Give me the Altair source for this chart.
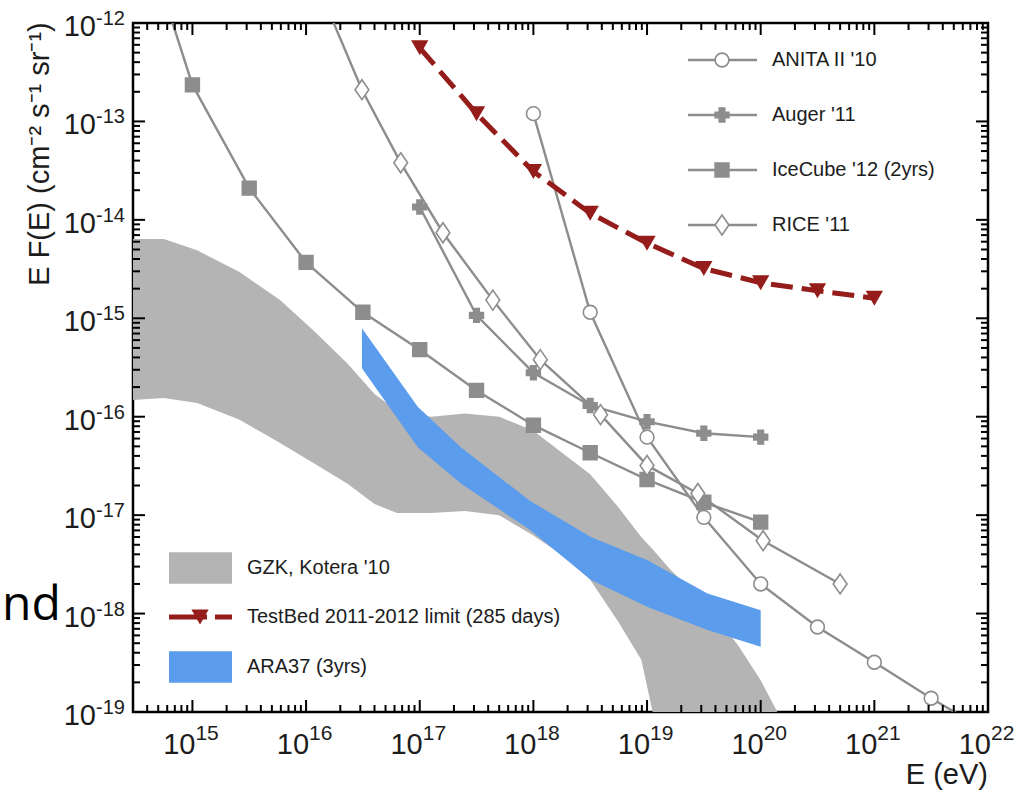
import altair as alt
import pandas as pd

# ---------------- data ----------------
E_DOMAIN = [3.0e14, 1.0e22]
F_DOMAIN = [1e-19, 1e-12]

# Kotera '10 GZK band
gzk_E = [3.0e14, 5.6e14, 1.1e15, 2.6e15, 5.9e15, 1.15e16, 2.3e16, 4.0e16, 6.3e16, 1.26e17,
         2.5e17, 5.0e17, 1.0e18, 2.0e18, 3.16e18, 5.6e18, 8.9e18, 1.12e19, 1.6e19, 3.16e19,
         6.3e19, 1.0e20, 1.4e20]
gzk_hi = [6.4e-15, 6.4e-15, 4.9e-15, 2.95e-15, 1.53e-15, 7.6e-16, 3.5e-16, 1.7e-16, 1.15e-16, 1.0e-16,
          1.08e-16, 1.0e-16, 7.2e-17, 3.9e-17, 2.6e-17, 1.2e-17, 6.0e-18, 4.5e-18, 2.8e-18, 1.3e-18,
          4.8e-19, 2.1e-19, 1.0e-19]
gzk_lo = [1.48e-16, 1.55e-16, 1.38e-16, 9.3e-17, 5.4e-17, 3.4e-17, 2.1e-17, 1.3e-17, 1.05e-17, 1.05e-17,
          1.1e-17, 1.0e-17, 6.2e-18, 3.6e-18, 2.2e-18, 8.2e-19, 3.4e-19, 1.0e-19, 1.0e-19, 1.0e-19,
          1.0e-19, 1.0e-19, 1.0e-19]

# ARA37 (3yrs) band
ara_E = [3.1e16, 9.6e16, 2.3e17, 9.3e17, 3.2e18, 1.0e19, 3.4e19, 1.0e20]
ara_hi = [7.9e-16, 1.26e-16, 4.9e-17, 1.4e-17, 6.0e-18, 3.5e-18, 1.6e-18, 1.08e-18]
ara_lo = [3.1e-16, 4.9e-17, 2.1e-17, 7.1e-18, 2.2e-18, 1.17e-18, 6.8e-19, 4.6e-19]

# experiments
anita_E = [1e18, 3.16e18, 1e19, 3.16e19, 1e20, 3.16e20, 1e21, 3.16e21, 1e22]
anita_F = [1.2e-13, 1.15e-15, 6.2e-17, 9.5e-18, 2.0e-18, 7.3e-19, 3.2e-19, 1.38e-19, 6.3e-20]

auger_E = [1e17, 3.16e17, 1e18, 3.16e18, 1e19, 3.16e19, 1e20]
auger_F = [1.35e-14, 1.07e-15, 2.8e-16, 1.3e-16, 8.9e-17, 6.8e-17, 6.2e-17]

icecube_E = [3.16e14, 1e15, 3.16e15, 1e16, 3.16e16, 1e17, 3.16e17, 1e18, 3.16e18, 1e19, 3.16e19, 1e20]
icecube_F = [1.5e-11, 2.35e-13, 2.1e-14, 3.7e-15, 1.15e-15, 4.8e-16, 1.85e-16, 8.2e-17, 4.3e-17,
             2.3e-17, 1.35e-17, 8.5e-18]

rice_E = [1e16, 3.1e16, 6.8e16, 1.6e17, 4.4e17, 1.15e18, 3.9e18, 1.0e19, 2.8e19, 1.05e20, 5.0e20]
rice_F = [4.6e-12, 2.1e-13, 3.8e-14, 7.4e-15, 1.53e-15, 3.8e-16, 1.05e-16, 3.2e-17, 1.66e-17,
          5.5e-18, 2.0e-18]

# TestBed 2011-2012 limit
tb_E = [1e17, 3.16e17, 1e18, 3.16e18, 1e19, 3.16e19, 1e20, 3.16e20, 1e21]
tb_F = [5.6e-13, 1.2e-13, 3.1e-14, 1.17e-14, 5.8e-15, 3.2e-15, 2.3e-15, 1.9e-15, 1.6e-15]

exp_names = ["ANITA II '10", "Auger '11", "IceCube '12 (2yrs)", "RICE '11"]
band_names = ["GZK, Kotera '10", "TestBed 2011-2012 limit (285 days)", "ARA37 (3yrs)"]

# tick labels
x_tick_vals = [1e15, 1e16, 1e17, 1e18, 1e19, 1e20, 1e21, 1e22]
x_tick_exp = ["15", "16", "17", "18", "19", "20", "21", "22"]
y_tick_vals = [1e-19, 1e-18, 1e-17, 1e-16, 1e-15, 1e-14, 1e-13, 1e-12]
y_tick_exp = ["-19", "-18", "-17", "-16", "-15", "-14", "-13", "-12"]

# ---------------- styling / layout ----------------
W, H = 855, 689
PAD = {"left": 133, "top": 23, "right": 46, "bottom": 83}
FONT = "Liberation Sans"
GRAY = "#8d8d8d"
GZK_COL = "#b4b4b4"
ARA_COL = "#5b9cec"
RED = "#941c1a"
INK = "#1c1c1c"
DIAMOND = "M0,-1.45L1,0L0,1.45L-1,0Z"
RECT = "M-1,-0.5H1V0.5H-1Z"
EXP_SHAPES = ["circle", "cross", "square", DIAMOND]
EXP_FILLS = ["white", GRAY, GRAY, "white"]
LEG1_ROWS = [37, 92, 147, 202]
LEG2_ROWS = [545, 594, 644]
TICK_W = 2.0

xs = alt.Scale(type="log", domain=E_DOMAIN, nice=False)
ys = alt.Scale(type="log", domain=F_DOMAIN, nice=False)
shape_scale = alt.Scale(domain=exp_names, range=EXP_SHAPES)
fill_scale = alt.Scale(domain=exp_names, range=EXP_FILLS)

X = lambda f: alt.X(f, scale=xs, axis=None)
Y = lambda f: alt.Y(f, scale=ys, axis=None)

# ---------------- data frames ----------------
df_gzk = pd.DataFrame({"E": gzk_E, "hi": gzk_hi, "lo": gzk_lo})
df_ara = pd.DataFrame({"E": ara_E, "hi": ara_hi, "lo": ara_lo})
rows = []
for name, es, fs in [(exp_names[0], anita_E, anita_F), (exp_names[1], auger_E, auger_F),
                     (exp_names[2], icecube_E, icecube_F), (exp_names[3], rice_E, rice_F)]:
    for e, f in zip(es, fs):
        rows.append({"series": name, "E": e, "F": f})
df_exp = pd.DataFrame(rows)
df_tb = pd.DataFrame({"E": tb_E, "F": tb_F})

layers = []

layers.append(alt.Chart(df_gzk).mark_area(color=GZK_COL, opacity=1, clip=True).encode(
    x=X("E:Q"), y=Y("hi:Q"), y2=alt.Y2("lo:Q")))
layers.append(alt.Chart(df_ara).mark_area(color=ARA_COL, opacity=1, clip=True).encode(
    x=X("E:Q"), y=Y("hi:Q"), y2=alt.Y2("lo:Q")))

layers.append(alt.Chart(df_exp).mark_line(color=GRAY, strokeWidth=2.4, clip=True).encode(
    x=X("E:Q"), y=Y("F:Q"), detail="series:N"))
layers.append(alt.Chart(df_exp).mark_point(filled=True, size=190, stroke=GRAY, strokeWidth=1.6,
                                           opacity=1, clip=True).encode(
    x=X("E:Q"), y=Y("F:Q"),
    shape=alt.Shape("series:N", scale=shape_scale, legend=None),
    fill=alt.Fill("series:N", scale=fill_scale, legend=None)))

layers.append(alt.Chart(df_tb).mark_line(color=RED, strokeWidth=5, strokeDash=[22, 9], clip=True).encode(
    x=X("E:Q"), y=Y("F:Q")))
layers.append(alt.Chart(df_tb).mark_point(shape="triangle-down", filled=True, size=300, color=RED,
                                          opacity=1, clip=True).encode(x=X("E:Q"), y=Y("F:Q")))

# ---------------- ticks (inward, mirrored) ----------------
x_minor = [m * 10.0 ** e for e in range(14, 22) for m in range(2, 10)
           if E_DOMAIN[0] <= m * 10.0 ** e <= E_DOMAIN[1]]
y_minor = [m * 10.0 ** e for e in range(-19, -12) for m in range(2, 10)]
df_xmaj = pd.DataFrame({"v": x_tick_vals, "exp": x_tick_exp})
df_ymaj = pd.DataFrame({"v": y_tick_vals, "exp": y_tick_exp})
df_xmin = pd.DataFrame({"v": x_minor})
df_ymin = pd.DataFrame({"v": y_minor})

for dfx, ln in [(df_xmaj, 12), (df_xmin, 7)]:
    layers.append(alt.Chart(dfx).mark_rule(color="black", strokeWidth=TICK_W).encode(
        x=X("v:Q"), y=alt.value(H), y2=alt.value(H - ln)))
    layers.append(alt.Chart(dfx).mark_rule(color="black", strokeWidth=TICK_W).encode(
        x=X("v:Q"), y=alt.value(0), y2=alt.value(ln)))
for dfy, ln in [(df_ymaj, 12), (df_ymin, 7)]:
    layers.append(alt.Chart(dfy).mark_rule(color="black", strokeWidth=TICK_W).encode(
        y=Y("v:Q"), x=alt.value(0), x2=alt.value(ln)))
    layers.append(alt.Chart(dfy).mark_rule(color="black", strokeWidth=TICK_W).encode(
        y=Y("v:Q"), x=alt.value(W - ln), x2=alt.value(W)))

# ---------------- tick labels ----------------
layers.append(alt.Chart(df_xmaj).mark_text(align="right", baseline="middle", dx=3, fontSize=29,
                                           font=FONT, color=INK).encode(
    x=X("v:Q"), y=alt.value(H + 33), text=alt.value("10")))
layers.append(alt.Chart(df_xmaj).mark_text(align="left", baseline="middle", dx=3, fontSize=21,
                                           font=FONT, color=INK).encode(
    x=X("v:Q"), y=alt.value(H + 22), text="exp:N"))
layers.append(alt.Chart(df_ymaj).mark_text(align="right", baseline="middle", dy=4, fontSize=29,
                                           font=FONT, color=INK).encode(
    y=Y("v:Q"), x=alt.value(-37), text=alt.value("10")))
layers.append(alt.Chart(df_ymaj).mark_text(align="left", baseline="middle", dy=-4, fontSize=20,
                                           font=FONT, color=INK).encode(
    y=Y("v:Q"), x=alt.value(-37), text="exp:N"))

one = pd.DataFrame({"k": [0]})
layers.append(alt.Chart(one).mark_text(angle=270, align="center", baseline="alphabetic", fontSize=29,
                                       font=FONT, color=INK).encode(
    x=alt.value(-84), y=alt.value(131),
    text=alt.value("E F(E) (cm\u207b\u00b2 s\u207b\u00b9 sr\u207b\u00b9)")))
layers.append(alt.Chart(one).mark_text(align="right", baseline="middle", fontSize=29,
                                       font=FONT, color=INK).encode(
    x=alt.value(W), y=alt.value(H + 63), text=alt.value("E (eV)")))
layers.append(alt.Chart(one).mark_text(align="left", baseline="alphabetic", fontSize=48,
                                       font="Open Sans", color="black").encode(
    x=alt.value(-131), y=alt.value(597), text=alt.value("nd")))

# ---------------- legend: experiments (top right) ----------------
for name, shp, fil, ry in zip(exp_names, EXP_SHAPES, EXP_FILLS, LEG1_ROWS):
    layers.append(alt.Chart(one).mark_rule(color=GRAY, strokeWidth=2.4).encode(
        x=alt.value(555), x2=alt.value(624), y=alt.value(ry)))
    layers.append(alt.Chart(one).mark_point(shape=shp, fill=fil, filled=True, size=190, stroke=GRAY,
                                            strokeWidth=1.6, opacity=1).encode(
        x=alt.value(589), y=alt.value(ry)))
    layers.append(alt.Chart(one).mark_text(align="left", baseline="middle", fontSize=20, font=FONT,
                                           color=INK).encode(
        x=alt.value(639), y=alt.value(ry), text=alt.value(name)))

# ---------------- legend: bands (bottom left) ----------------
layers.append(alt.Chart(one).mark_point(shape=RECT, size=3969, filled=True, color=GZK_COL, opacity=1,
                                        strokeWidth=0).encode(x=alt.value(67.5), y=alt.value(LEG2_ROWS[0])))
layers.append(alt.Chart(one).mark_rule(color=RED, strokeWidth=5, strokeDash=[38, 8]).encode(
    x=alt.value(36), x2=alt.value(99), y=alt.value(LEG2_ROWS[1])))
layers.append(alt.Chart(one).mark_point(shape="triangle-down", filled=True, size=300, color=RED,
                                        opacity=1).encode(x=alt.value(67), y=alt.value(LEG2_ROWS[1])))
layers.append(alt.Chart(one).mark_point(shape=RECT, size=3969, filled=True, color=ARA_COL, opacity=1,
                                        strokeWidth=0).encode(x=alt.value(67.5), y=alt.value(LEG2_ROWS[2])))
for name, ry in zip(band_names, LEG2_ROWS):
    layers.append(alt.Chart(one).mark_text(align="left", baseline="middle", fontSize=20, font=FONT,
                                           color=INK).encode(
        x=alt.value(114), y=alt.value(ry), text=alt.value(name)))

chart = alt.layer(*layers).properties(
    width=W, height=H, padding=PAD, autosize=alt.AutoSizeParams(type="none")
).configure_view(stroke="black", strokeWidth=2.5)

chart.save("out.html", embed_options={"renderer": "svg", "actions": False})
